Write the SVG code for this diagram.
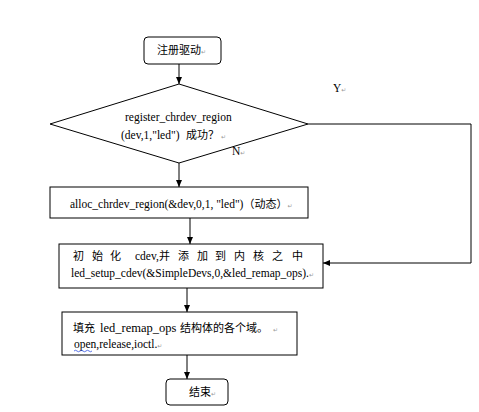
<svg xmlns="http://www.w3.org/2000/svg" width="479" height="412" viewBox="0 0 479 412">
<style>
.shape{fill:#fff;stroke:#000;stroke-width:1}
.ln{fill:none;stroke:#000;stroke-width:1}
.t{font-family:"Liberation Serif","Noto Sans CJK SC",serif;font-size:11.5px;fill:#000}
.c{font-family:"Noto Sans CJK SC","Noto Sans",sans-serif;font-size:11px;fill:#000}
.pm{font-family:"DejaVu Sans",sans-serif;font-size:6px;fill:#999}
</style>
<defs>
<marker id="ah" markerWidth="8" markerHeight="8" refX="7" refY="4" orient="auto" markerUnits="userSpaceOnUse">
<path d="M0,1 L7,4 L0,7 Z" fill="#000"/>
</marker>
</defs>
<rect width="479" height="412" fill="#fff"/>
<g id="connectors">
<line class="ln" x1="179" y1="64" x2="179" y2="84" marker-end="url(#ah)"/>
<line class="ln" x1="179" y1="163" x2="179" y2="187" marker-end="url(#ah)"/>
<line class="ln" x1="190" y1="218" x2="190" y2="244" marker-end="url(#ah)"/>
<polyline class="ln" points="308,124 471,124 471,263 323,263" marker-end="url(#ah)"/>
<line class="ln" x1="187" y1="288" x2="187" y2="312" marker-end="url(#ah)"/>
<line class="ln" x1="187" y1="355" x2="187" y2="379" marker-end="url(#ah)"/>
<text class="t" x="333" y="92">Y<tspan class="pm">↵</tspan></text>
<text class="t" x="232" y="155">N<tspan class="pm">↵</tspan></text>
</g>
<g id="start">
<rect class="shape" x="144" y="37" width="77" height="27" rx="4"/>
<text class="c" x="157" y="54">注册驱动<tspan class="pm">↵</tspan></text>
</g>
<g id="decision">
<polygon class="shape" points="179,84 308,124 179,163 50,124"/>
<text class="t" x="125" y="121">register_chrdev_region</text>
<text class="t" x="121" y="139">(dev,1,"led")</text>
<text class="c" x="186" y="139">成功？<tspan class="pm"> ↵</tspan></text>
</g>
<g id="alloc">
<rect class="shape" x="50" y="187" width="258" height="31"/>
<text class="t" x="70" y="208">alloc_chrdev_region(&amp;dev,0,1, "led")<tspan class="c">（动态）</tspan><tspan class="pm">↵</tspan></text>
</g>
<g id="init">
<rect class="shape" x="59" y="244" width="264" height="44"/>
<text class="c" x="73 92 110" y="260">初始化</text>
<text class="t" x="135" y="260">cdev,</text>
<text class="c" x="159 178 197 215 234 253 272 292" y="260">并添加到内核之中</text>
<text class="t" x="71" y="277">led_setup_cdev(&amp;SimpleDevs,0,&amp;led_remap_ops).<tspan class="pm">↵</tspan></text>
</g>
<g id="fill">
<rect class="shape" x="62" y="312" width="235" height="43"/>
<text class="c" x="73" y="332">填充</text>
<text class="t" x="100" y="332" style="font-size:12.5px">led_remap_ops</text>
<text class="c" x="180" y="332" textLength="88" lengthAdjust="spacing">结构体的各个域。</text>
<text class="pm" x="273" y="332">↵</text>
<text class="t" x="74" y="348">open,release,ioctl.<tspan class="pm">↵</tspan></text>
<path d="M74,351 q1.5,-1.5 3,0 t3,0 t3,0 t3,0 t3,0 t3,0" fill="none" stroke="#3050e0" stroke-width="0.8"/>
</g>
<g id="end">
<rect class="shape" x="166" y="379" width="62" height="26" rx="4"/>
<text class="c" x="189" y="396">结束<tspan class="pm">↵</tspan></text>
</g>
</svg>
